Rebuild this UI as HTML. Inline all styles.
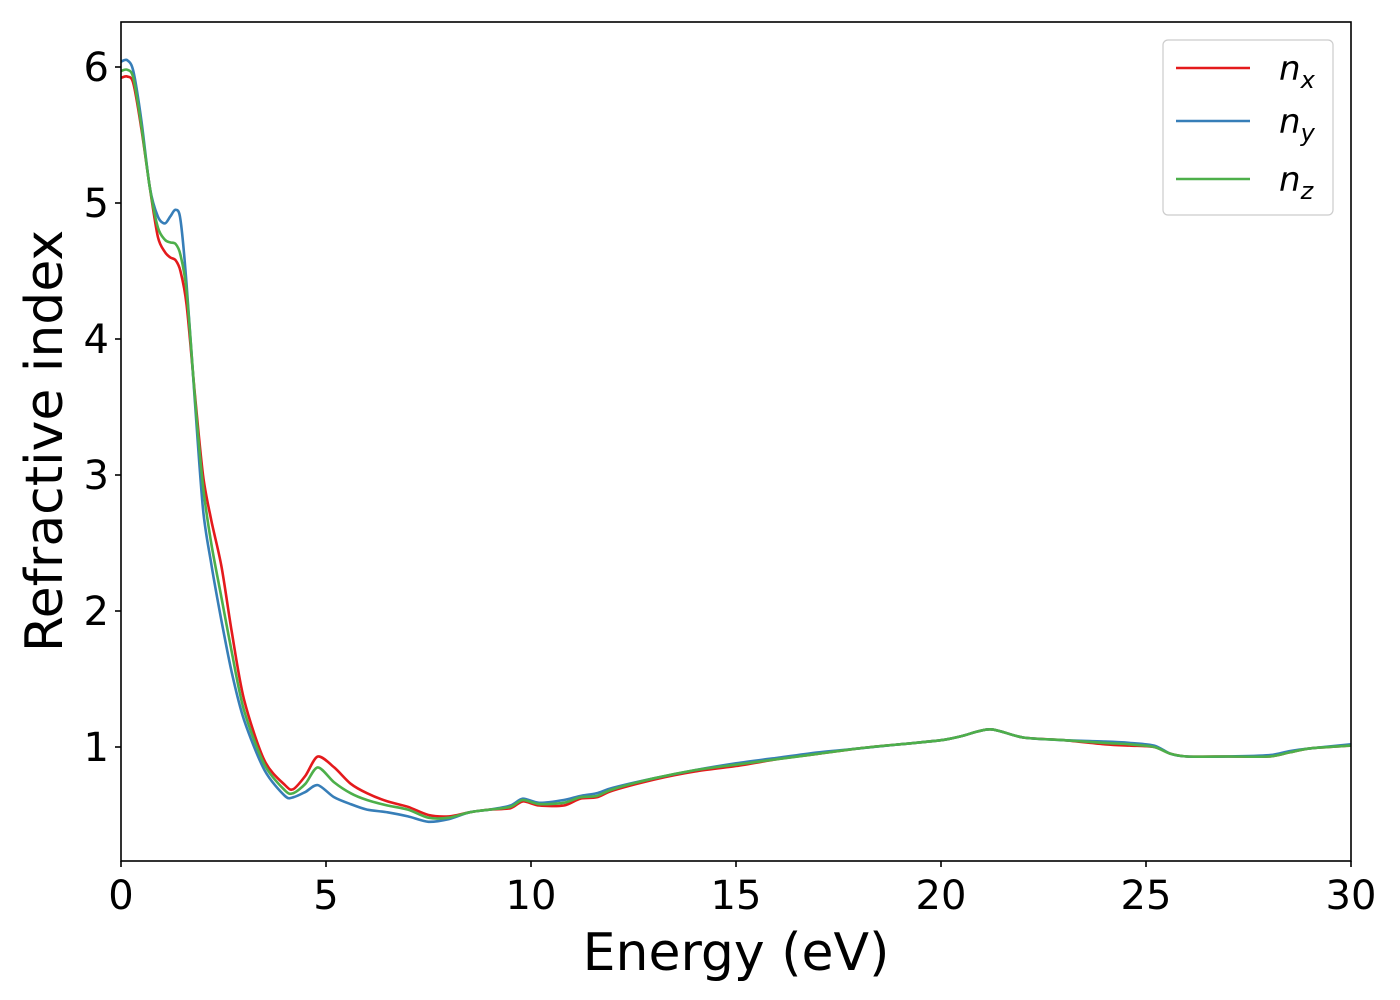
<!DOCTYPE html>
<html><head><meta charset="utf-8"><style>
body{margin:0;background:#fff;}
svg{display:block;font-family:"DejaVu Sans","Liberation Sans",sans-serif;}
</style></head><body>
<svg id="chart" width="1400" height="1000">
<rect x="0" y="0" width="1400" height="1000" fill="#fff"/>
<g id="series"></g>
<rect x="121" y="22" width="1230" height="839" fill="none" stroke="#000" stroke-width="1.6"/>
<g id="xticks"></g>
<g id="yticks"></g>
<text x="736" y="970" font-size="52" text-anchor="middle">Energy (eV)</text>
<text transform="translate(62,441) rotate(-90)" font-size="52" text-anchor="middle">Refractive index</text>
<g>
<rect x="1163" y="40" width="170" height="175" rx="5" fill="#fff" stroke="#ccc" stroke-width="1.2"/>
<line x1="1176" y1="68" x2="1250" y2="68" stroke="#e41a1c" stroke-width="2.6"/>
<text x="1279" y="80" font-size="34" font-style="italic">n<tspan font-size="24" dy="8">x</tspan></text>
<line x1="1176" y1="121" x2="1250" y2="121" stroke="#377eb8" stroke-width="2.6"/>
<text x="1279" y="133" font-size="34" font-style="italic">n<tspan font-size="24" dy="8">y</tspan></text>
<line x1="1176" y1="179" x2="1250" y2="179" stroke="#4daf4a" stroke-width="2.6"/>
<text x="1279" y="191" font-size="34" font-style="italic">n<tspan font-size="24" dy="8">z</tspan></text>
</g>
</svg>
<script>
const xTickLabels=[0,5,10,15,20,25,30];
const yTickLabels=[1,2,3,4,5,6];
const energyX=[0,0.15,0.3,0.5,0.7,0.9,1.07,1.2,1.33,1.45,1.6,1.8,2.0,2.2,2.45,2.7,3.0,3.5,4.0,4.2,4.5,4.8,5.2,5.6,6.0,6.5,7.0,7.5,8.0,8.5,9.0,9.5,9.8,10.2,10.8,11.2,11.6,12,13,14,15,16,17,18,19,20,20.5,21.2,22,23,24,24.6,25.2,25.6,26,27,28,28.5,29,30];
const nxVals=[5.92,5.93,5.88,5.54,5.12,4.75,4.64,4.60,4.58,4.50,4.25,3.60,3.0,2.67,2.33,1.85,1.35,0.90,0.72,0.69,0.79,0.93,0.85,0.73,0.66,0.60,0.56,0.50,0.49,0.52,0.54,0.55,0.60,0.57,0.57,0.62,0.63,0.68,0.76,0.82,0.86,0.91,0.95,0.99,1.02,1.05,1.08,1.13,1.07,1.05,1.02,1.01,1.0,0.95,0.93,0.93,0.93,0.96,0.99,1.01];
const nyVals=[6.04,6.05,5.97,5.60,5.12,4.90,4.85,4.90,4.95,4.88,4.40,3.55,2.75,2.35,1.93,1.55,1.2,0.83,0.64,0.63,0.67,0.72,0.63,0.58,0.54,0.52,0.49,0.45,0.47,0.52,0.54,0.57,0.62,0.59,0.61,0.64,0.66,0.70,0.77,0.83,0.88,0.92,0.96,0.99,1.02,1.05,1.08,1.13,1.07,1.05,1.04,1.03,1.01,0.95,0.93,0.93,0.94,0.97,0.99,1.02];
const nzVals=[5.97,5.98,5.92,5.56,5.12,4.82,4.73,4.71,4.70,4.62,4.35,3.58,2.92,2.50,2.10,1.70,1.27,0.87,0.68,0.66,0.73,0.85,0.74,0.66,0.61,0.57,0.54,0.48,0.48,0.52,0.54,0.56,0.61,0.58,0.59,0.63,0.64,0.69,0.77,0.83,0.87,0.91,0.95,0.99,1.02,1.05,1.08,1.13,1.07,1.05,1.03,1.02,1.0,0.95,0.93,0.93,0.93,0.96,0.99,1.01];
const NS="http://www.w3.org/2000/svg";
function xs(v){return 121+v*41;}
function ys(v){return 747-(v-1)*136;}
function pathFrom(xv,yv){
  const p=xv.map((x,i)=>[xs(x),ys(yv[i])]);
  let d="M"+p[0][0]+","+p[0][1];
  for(let i=0;i<p.length-1;i++){
    const p0=p[Math.max(0,i-1)],p1=p[i],p2=p[i+1],p3=p[Math.min(p.length-1,i+2)];
    const c1=[p1[0]+(p2[0]-p0[0])/7,p1[1]+(p2[1]-p0[1])/7];
    const c2=[p2[0]-(p3[0]-p1[0])/7,p2[1]-(p3[1]-p1[1])/7];
    d+=" C"+c1[0].toFixed(1)+","+c1[1].toFixed(1)+" "+c2[0].toFixed(1)+","+c2[1].toFixed(1)+" "+p2[0].toFixed(1)+","+p2[1].toFixed(1);
  }
  return d;
}
const g=document.getElementById("series");
[[nxVals,"#e41a1c","line-nx"],[nyVals,"#377eb8","line-ny"],[nzVals,"#4daf4a","line-nz"]].forEach(s=>{
  const el=document.createElementNS(NS,"path");
  el.setAttribute("d",pathFrom(energyX,s[0]));
  el.setAttribute("fill","none");
  el.setAttribute("stroke",s[1]);
  el.setAttribute("stroke-width","2.6");
  el.setAttribute("stroke-linejoin","round");
  
  
  g.appendChild(el);
});
const xt=document.getElementById("xticks");
xTickLabels.forEach(v=>{
  const l=document.createElementNS(NS,"line");
  l.setAttribute("x1",xs(v));l.setAttribute("x2",xs(v));l.setAttribute("y1",861);l.setAttribute("y2",867);
  l.setAttribute("stroke","#000");l.setAttribute("stroke-width","1.6");
  
  
  xt.appendChild(l);
  const t=document.createElementNS(NS,"text");
  t.setAttribute("x",xs(v));t.setAttribute("y",909);t.setAttribute("font-size","40");t.setAttribute("text-anchor","middle");
  t.textContent=v;
  
  
  xt.appendChild(t);
});
const yt=document.getElementById("yticks");
yTickLabels.forEach(v=>{
  const l=document.createElementNS(NS,"line");
  l.setAttribute("x1",115);l.setAttribute("x2",121);l.setAttribute("y1",ys(v));l.setAttribute("y2",ys(v));
  l.setAttribute("stroke","#000");l.setAttribute("stroke-width","1.6");
  
  
  yt.appendChild(l);
  const t=document.createElementNS(NS,"text");
  t.setAttribute("x",109);t.setAttribute("y",ys(v)+14);t.setAttribute("font-size","40");t.setAttribute("text-anchor","end");
  t.textContent=v;
  
  
  yt.appendChild(t);
});
</script>
</body></html>
